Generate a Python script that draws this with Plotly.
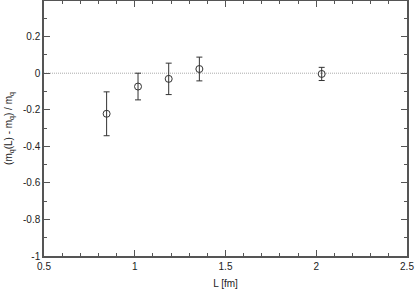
import plotly.graph_objects as go

# data
L_fm = [0.845, 1.018, 1.187, 1.356, 2.03]
dm_rel = [-0.222, -0.073, -0.031, 0.023, -0.004]
dm_err = [0.12, 0.073, 0.086, 0.065, 0.036]

x_ticks = [0.5, 1.0, 1.5, 2.0, 2.5]
x_ticktext = ["0.5", "1", "1.5", "2", "2.5"]
y_ticks = [-1.0, -0.8, -0.6, -0.4, -0.2, 0.0, 0.2]
y_ticktext = ["-1", "-0.8", "-0.6", "-0.4", "-0.2", "0", "0.2"]

axcol = "#555555"
font = dict(family="Liberation Sans, Arial, sans-serif", size=10, color="#222222")

fig = go.Figure()
# dotted zero line
fig.add_trace(go.Scatter(x=[0.5, 2.5], y=[0, 0], mode="lines",
                         line=dict(color="#aaaaaa", width=1, dash="1px,1px"),
                         hoverinfo="skip", showlegend=False))
fig.add_trace(go.Scatter(
    x=L_fm, y=dm_rel, mode="markers",
    marker=dict(symbol="circle-open", size=7, color="#333333", line=dict(width=1)),
    error_y=dict(type="data", array=dm_err, visible=True,
                 color="#333333", thickness=1, width=3),
    showlegend=False))

axis_common = dict(showgrid=False, zeroline=False, showline=True, linecolor=axcol,
                   linewidth=1.5, mirror="allticks", ticks="inside", ticklen=6,
                   tickcolor=axcol, tickfont=font, automargin=False)

fig.update_xaxes(range=[0.5, 2.5], tickvals=x_ticks, ticktext=x_ticktext,
                 ticklabeloverflow="allow",
                 minor=dict(ticks="inside", dtick=0.1, ticklen=3, tickcolor=axcol),
                 title=dict(text="L [fm]", font=font, standoff=9), **axis_common)
fig.update_yaxes(range=[-1, 0.395], tickvals=y_ticks, ticktext=y_ticktext,
                 minor=dict(ticks="inside", dtick=0.1, ticklen=3, tickcolor=axcol),
                 title=dict(text="(m<sub>q</sub>(L) - m<sub>q</sub>) / m<sub>q</sub>",
                            font=font, standoff=9), **axis_common)

fig.update_layout(width=415, height=291,
                  margin=dict(l=44, r=8, t=1, b=35),
                  paper_bgcolor="white", plot_bgcolor="white", font=font)

# page body has a default margin; drop it so the figure sits at the corner
fig.write_html("out.html", config={"displayModeBar": False},
               post_script="document.body.style.margin='0';")
